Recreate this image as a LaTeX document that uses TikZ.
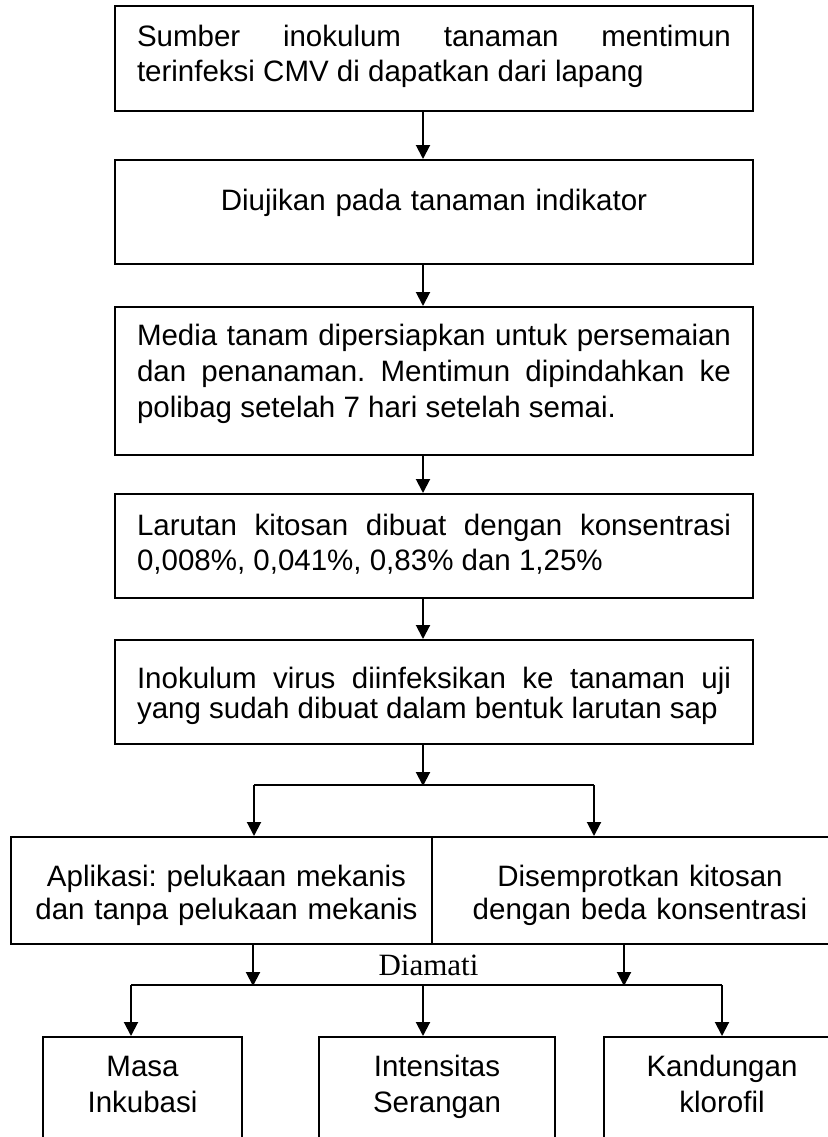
\documentclass[tikz,border=0pt]{standalone}
\usepackage{fontspec}
\setmainfont{Liberation Sans}
\newfontfamily\serifface{Liberation Serif}
\usetikzlibrary{arrows.meta}
\tolerance=10000
\hyphenpenalty=10000
\hbadness=10000
\frenchspacing
\begin{document}
\begin{tikzpicture}[x=1pt,y=-1pt,
  box/.style={draw, line width=2pt, rectangle, inner sep=0pt, text height=21pt},
  jbox/.style={box, text width=594pt, align=justify, minimum width=638pt},
  cbox/.style={box, align=center},
  arr/.style={line width=2pt, -{Triangle[length=14pt,width=14pt]}},
  split/.style={line width=1.3pt},
]
\useasboundingbox (0,0) rectangle (827,1137);
% main column
\node[jbox, minimum height=105pt, text depth=44.6pt, font=\fontsize{29.5}{35}\selectfont] (b1) at (434,58.5)
  {Sumber inokulum tanaman mentimun\linebreak terinfeksi CMV di dapatkan dari lapang};
\node[jbox, align=center, minimum height=104pt, text depth=25pt, font=\fontsize{29.5}{35}\selectfont] (b2) at (434,212)
  {Diujikan pada tanaman indikator};
\node[jbox, minimum height=148pt, text depth=93pt, font=\fontsize{29.5}{36}\selectfont] (b3) at (434,381)
  {Media tanam dipersiapkan untuk persemaian\linebreak dan penanaman. Mentimun dipindahkan ke\linebreak polibag setelah 7 hari setelah semai.};
\node[jbox, minimum height=104pt, text depth=43pt, font=\fontsize{29.5}{35}\selectfont] (b4) at (434,546)
  {Larutan kitosan dibuat dengan konsentrasi\linebreak 0,008\%, 0,041\%, 0,83\% dan 1,25\%};
\node[jbox, minimum height=104pt, text depth=29pt, font=\fontsize{29.5}{30}\selectfont] (b5) at (434,692)
  {Inokulum virus diinfeksikan ke tanaman uji\linebreak yang sudah dibuat dalam bentuk larutan sap};
% two treatment boxes
\node[cbox, text width=400pt, minimum width=421pt, minimum height=107pt, text depth=30pt, font=\fontsize{29.5}{33}\selectfont] (b6L) at (221.5,890.5)
  {\hspace*{10pt}Aplikasi: pelukaan mekanis\\\hspace*{10pt}dan tanpa pelukaan mekanis};
\node[cbox, text width=400pt, minimum width=416pt, minimum height=107pt, text depth=30pt, font=\fontsize{29.5}{33}\selectfont] (b6R) at (640,890.5)
  {Disemprotkan kitosan\\dengan beda konsentrasi};
% observation boxes
\node[cbox, text width=190pt, minimum width=199pt, minimum height=160pt, text depth=103pt, font=\fontsize{29.5}{36}\selectfont] (c1) at (142.5,1117)
  {Masa\\Inkubasi};
\node[cbox, text width=220pt, minimum width=236pt, minimum height=160pt, text depth=103pt, font=\fontsize{29.5}{36}\selectfont] (c2) at (437,1117)
  {Intensitas\\Serangan};
\node[cbox, text width=220pt, minimum width=236pt, minimum height=160pt, text depth=103pt, font=\fontsize{29.5}{36}\selectfont] (c3) at (722,1117)
  {Kandungan\\klorofil};
\node[anchor=base, inner sep=0pt, font=\serifface\fontsize{31}{31}\selectfont] (dm) at (428.5,975.7) {Diamati};
% connectors
\coordinate (ax) at (423,0);
\draw[arr] (b1.south -| ax) -- (b2.north -| ax);
\draw[arr] (b2.south -| ax) -- (b3.north -| ax);
\draw[arr] (b3.south -| ax) -- (b4.north -| ax);
\draw[arr] (b4.south -| ax) -- (b5.north -| ax);
\coordinate (s0) at (423,786);
\coordinate (sL) at (254,785);
\coordinate (sR) at (594,785);
\draw[arr] (b5.south -| ax) -- (s0);
\draw[split] (sL) -- (sR);
\draw[arr] (sL) -- (sL |- b6L.north);
\draw[arr] (sR) -- (sR |- b6R.north);
\coordinate (dL) at (131,985);
\coordinate (dR) at (722,985);
\coordinate (d1) at (253,986);
\coordinate (d2) at (624,986);
\coordinate (dM) at (423,985);
\draw[arr] (d1 |- b6L.south) -- (d1);
\draw[arr] (d2 |- b6R.south) -- (d2);
\draw[split] (dL) -- (dR);
\draw[arr] (dL) -- (dL |- c1.north);
\draw[arr] (dM) -- (dM |- c2.north);
\draw[arr] (dR) -- (dR |- c3.north);
\end{tikzpicture}
\end{document}
